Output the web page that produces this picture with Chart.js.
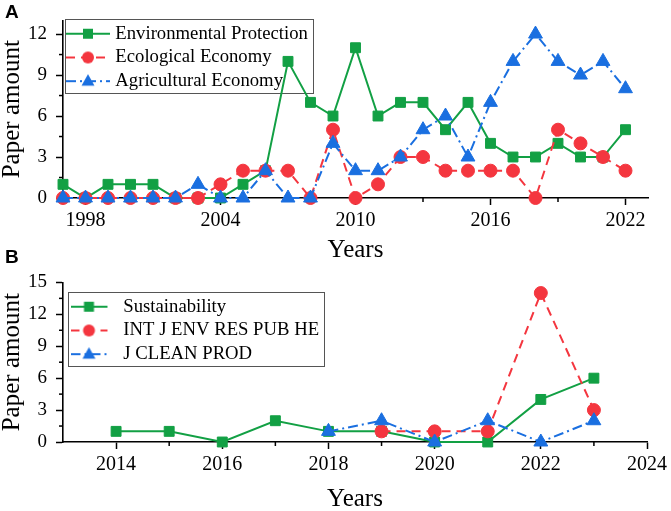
<!DOCTYPE html>
<html>
<head>
<meta charset="utf-8">
<script src="https://cdn.jsdelivr.net/npm/chart.js"></script>
<style>
  html, body { margin: 0; padding: 0; background: #fff; }
  #wrap { position: relative; width: 671px; height: 511px; overflow: hidden; }
  #cA { position: absolute; left: 0; top: 0; }
  #cB { position: absolute; left: 0; top: 262px; }
  .panel { position: absolute; left: 5px; font: bold 19px 'Liberation Sans', Arial, sans-serif; color: #000; z-index: 2; }
</style>
</head>
<body>
<div id="wrap">
  <canvas id="cA" width="671" height="262"></canvas>
  <canvas id="cB" width="671" height="249"></canvas>
  <div class="panel" style="top:1px">A</div>
  <div class="panel" style="top:246px">B</div>
</div>
<script>
// ---------- Panel A data ----------
const yearsA = [1997,1998,1999,2000,2001,2002,2003,2004,2005,2006,2007,2008,2009,2010,2011,2012,2013,2014,2015,2016,2017,2018,2019,2020,2021,2022];
const envProtection = [1,0,1,1,1,0,0,0,1,2,10,7,6,11,6,7,7,5,7,4,3,3,4,3,3,5];
const ecoEconomy    = [0,0,0,0,0,0,0,1,2,2,2,0,5,0,1,3,3,2,2,2,2,0,5,4,3,2];
const agriEconomy   = [0,0,0,0,0,0,1,0,0,2,0,0,4,2,2,3,5,6,3,7,10,12,10,9,10,8];
const seriesNamesA = ['Environmental Protection', 'Ecological Economy', 'Agricultural Economy'];
const xTicksA = [1998, 2004, 2010, 2016, 2022];
const xMinorA = [2001, 2007, 2013, 2019];
const yTicksA = [0, 3, 6, 9, 12];
const yMinorA = [1.5, 4.5, 7.5, 10.5];

// ---------- Panel B data ----------
const yearsB = [2014,2015,2016,2017,2018,2019,2020,2021,2022,2023];
const sustainability = [1,1,0,2,1,1,0,0,4,6];
const intJEnvRes     = [null,null,null,null,null,1,1,1,14,3];
const jCleanProd     = [null,null,null,null,1,2,0,2,0,2];
const seriesNamesB = ['Sustainability', 'INT J ENV RES PUB HE', 'J CLEAN PROD'];
const xTicksB = [2014, 2016, 2018, 2020, 2022, 2024];
const xMinorB = [2015, 2017, 2019, 2021, 2023];
const yTicksB = [0, 3, 6, 9, 12, 15];
const yMinorB = [1.5, 4.5, 7.5, 10.5, 13.5];

// ---------- styles ----------
const GREEN = '#12a044', RED = '#f4363f', BLUE = '#1a6fe0';
const SERIF = "'Liberation Serif', 'Times New Roman', serif";
const styles = [
  { color: GREEN, dash: [], point: 'rect', radius: 7 },
  { color: RED, dash: [9, 6], point: 'circle', radius: 6.5 },
  { color: BLUE, dash: [10, 4, 2, 4], point: 'triangle', radius: 8 }
];

function toPoints(xs, ys) {
  return xs.map((x, i) => ({ x: x, y: ys[i] })).filter(p => p.y !== null);
}

function legendSample(st, w, lineEnd, markerX) {
  const c = document.createElement('canvas');
  c.width = w; c.height = 18;
  const g = c.getContext('2d');
  const cy = 9;
  g.strokeStyle = st.color; g.lineWidth = 2; g.setLineDash(st.dash);
  g.beginPath(); g.moveTo(0, cy); g.lineTo(lineEnd, cy); g.stroke();
  g.setLineDash([]);
  g.fillStyle = st.color;
  g.beginPath();
  if (st.point === 'rect') { g.rect(markerX - 5, cy - 5, 10, 10); }
  else if (st.point === 'circle') { g.arc(markerX, cy, 6, 0, Math.PI * 2); }
  else { g.moveTo(markerX, cy - 7); g.lineTo(markerX + 6.5, cy + 4.5); g.lineTo(markerX - 6.5, cy + 4.5); g.closePath(); }
  g.fill();
  return c;
}

function makeDatasets(names, xs, arrays) {
  return arrays.map((arr, i) => ({
    label: names[i],
    data: toPoints(xs, arr),
    borderColor: styles[i].color,
    backgroundColor: styles[i].color,
    pointBackgroundColor: styles[i].color,
    pointBorderColor: styles[i].color,
    borderWidth: 2,
    borderDash: styles[i].dash,
    pointStyle: styles[i].point,
    pointRadius: styles[i].radius,
    pointBorderWidth: 1,
    tension: 0,
    clip: false,
    order: 2 - i
  }));
}

const decor = {
  id: 'decor',
  afterUpdate(chart, args, opts) {
    const lg = chart.legend;
    if (lg) {
      lg.left = chart.chartArea.left + opts.dx;
      lg.top = chart.chartArea.top + opts.dy;
      lg.right = lg.left + lg.width;
      lg.bottom = lg.top + lg.height;
    }
  },
  beforeDatasetsDraw(chart, args, opts) {
    const ctx = chart.ctx;
    const xs = chart.scales.x, ys = chart.scales.y;
    ctx.save();
    ctx.strokeStyle = '#000';
    ctx.lineWidth = 1.5;
    opts.xMinor.forEach(v => {
      const p = xs.getPixelForValue(v);
      ctx.beginPath(); ctx.moveTo(p, xs.top); ctx.lineTo(p, xs.top + opts.minorLen); ctx.stroke();
    });
    opts.yMinor.forEach(v => {
      const p = ys.getPixelForValue(v);
      ctx.beginPath(); ctx.moveTo(ys.right, p); ctx.lineTo(ys.right - opts.minorLen, p); ctx.stroke();
    });
    const lg = chart.legend;
    if (lg && lg.columnSizes && lg.columnSizes[0]) {
      const pad = lg.options.labels.padding;
      const col = lg.columnSizes[0];
      ctx.strokeStyle = '#555';
      ctx.lineWidth = 1;
      ctx.strokeRect(Math.round(lg.left) + 0.5, Math.round(lg.top) + 0.5,
        Math.round(pad * 2 + col.width + opts.frameExtraW), Math.round(pad + col.height + opts.frameExtraH));
    }
    ctx.restore();
  }
};

function makeChart(id, cfg) {
  const samples = cfg.names.map((n, i) => legendSample(styles[i], cfg.sampleW, cfg.sampleLine, cfg.sampleMarker));
  return new Chart(document.getElementById(id), {
    type: 'line',
    data: { datasets: makeDatasets(cfg.names, cfg.xs, cfg.arrays) },
    plugins: [decor],
    options: {
      responsive: false,
      animation: false,
      events: [],
      layout: { padding: { left: 0, top: cfg.padTop, right: 23, bottom: 0 } },
      plugins: {
        tooltip: { enabled: false },
        legend: {
          display: true,
          position: 'chartArea',
          align: 'start',
          fullSize: false,
          labels: {
            usePointStyle: true,
            pointStyleWidth: cfg.boxW,
            padding: 5,
            color: '#000',
            font: { family: SERIF, size: 18.7 },
            generateLabels: (chart) => chart.data.datasets.map((ds, i) => ({
              text: ds.label,
              pointStyle: samples[i],
              fillStyle: ds.borderColor,
              strokeStyle: ds.borderColor,
              lineWidth: 0,
              hidden: false,
              datasetIndex: i,
              fontColor: '#000'
            }))
          }
        },
        decor: {
          dx: cfg.legendDx, dy: cfg.legendDy, xMinor: cfg.xMinor, yMinor: cfg.yMinor,
          minorLen: 4, frameExtraW: cfg.frameExtraW, frameExtraH: cfg.frameExtraH
        }
      },
      scales: {
        x: {
          type: 'linear',
          min: cfg.xMin, max: cfg.xMax,
          afterBuildTicks: s => { s.ticks = cfg.xTicks.map(v => ({ value: v })); },
          afterFit: s => { s.height = cfg.xAxisH; },
          ticks: { color: '#000', font: { family: SERIF, size: 20 }, padding: 4, autoSkip: false, maxRotation: 0, callback: v => String(v) },
          grid: { display: true, drawOnChartArea: false, drawTicks: true, tickLength: 7, tickWidth: 1.5, tickColor: '#000' },
          border: { display: true, color: '#000', width: 1.6 },
          title: { display: true, text: 'Years', color: '#000', font: { family: SERIF, size: 25, lineHeight: 1 }, padding: { top: 0, bottom: -1 } }
        },
        y: {
          type: 'linear',
          min: 0, max: cfg.yMax,
          afterBuildTicks: s => { s.ticks = cfg.yTicks.map(v => ({ value: v })); },
          afterFit: s => { s.width = 63; },
          ticks: { color: '#000', font: { family: SERIF, size: 19 }, padding: 9, autoSkip: false, callback: v => String(v) },
          grid: { display: true, drawOnChartArea: false, drawTicks: true, tickLength: 7, tickWidth: 1.5, tickColor: '#000' },
          border: { display: true, color: '#000', width: 1.6 },
          title: { display: true, text: 'Paper amount', color: '#000', font: { family: SERIF, size: 25, lineHeight: 1 }, padding: { top: 0, bottom: 0 } }
        }
      }
    }
  });
}

makeChart('cA', {
  names: seriesNamesA, xs: yearsA, arrays: [envProtection, ecoEconomy, agriEconomy],
  xMin: 1997, xMax: 2023, yMax: 13, xTicks: xTicksA, yTicks: yTicksA, xMinor: xMinorA, yMinor: yMinorA,
  padTop: 20, xAxisH: 64, boxW: 36, sampleW: 44, sampleLine: 44, sampleMarker: 22,
  legendDx: 2, legendDy: -1, frameExtraW: 0, frameExtraH: -2
});

makeChart('cB', {
  names: seriesNamesB, xs: yearsB, arrays: [sustainability, intJEnvRes, jCleanProd],
  xMin: 2013, xMax: 2024, yMax: 15, xTicks: xTicksB, yTicks: yTicksB, xMinor: xMinorB, yMinor: yMinorB,
  padTop: 17, xAxisH: 69, boxW: 41, sampleW: 46, sampleLine: 37, sampleMarker: 18.5,
  legendDx: 5, legendDy: 10, frameExtraW: 0, frameExtraH: -2
});
</script>
</body>
</html>
